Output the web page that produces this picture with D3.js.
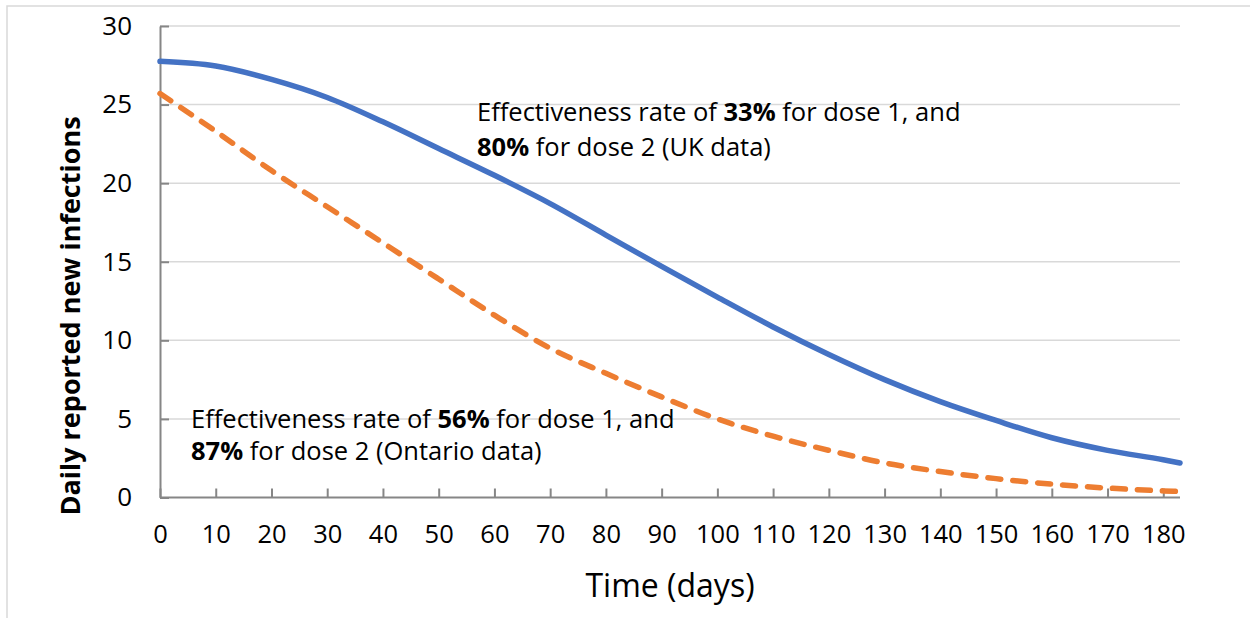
<!DOCTYPE html>
<html><head><meta charset="utf-8">
<script src="https://cdn.jsdelivr.net/npm/d3@7"></script>
<style>body{margin:0;background:#fff}svg{display:block}text{font-family:"Open Sans","Noto Sans",sans-serif;fill:#000}</style>
</head><body><svg id="c" width="1250" height="618"></svg>
<script>
const days = [0,10,20,30,40,50,60,70,80,90,100,110,120,130,140,150,160,170,180,183];
const ukSeries = [27.75,27.45,26.6,25.45,23.9,22.2,20.5,18.7,16.7,14.7,12.75,10.85,9.1,7.5,6.1,4.9,3.8,3.0,2.4,2.2];
const ontarioSeries = [25.7,23.3,20.8,18.5,16.2,13.9,11.6,9.5,7.9,6.4,5.0,3.9,3.0,2.2,1.65,1.2,0.85,0.6,0.42,0.38];
const xTicks = [0,10,20,30,40,50,60,70,80,90,100,110,120,130,140,150,160,170,180];
const yTicks = [0,5,10,15,20,25,30];
const ukLabel = [[["Effectiveness rate of ",false],["33%",true],[" for dose 1, and",false]],[["80%",true],[" for dose 2 (UK data)",false]]];
const ontLabel = [[["Effectiveness rate of ",false],["56%",true],[" for dose 1, and",false]],[["87%",true],[" for dose 2 (Ontario data)",false]]];

const svg = d3.select("#c");
svg.append("rect").attr("x",7).attr("y",6).attr("width",1270).attr("height",640)
  .attr("fill","#fff").attr("stroke","#d9d9d9").attr("stroke-width",1.5);

const L=160, R=1180, T=26, B=497.5;
const x = d3.scaleLinear().domain([0,183]).range([L,R]);
const y = d3.scaleLinear().domain([0,30]).range([B,T]);

svg.append("g").selectAll("line").data(yTicks.filter(d=>d>0)).join("line")
  .attr("x1",L).attr("x2",R).attr("y1",d=>y(d)).attr("y2",d=>y(d))
  .attr("stroke","#d9d9d9").attr("stroke-width",1.5);

const ya = svg.append("g").attr("transform",`translate(${L},0)`)
  .call(d3.axisLeft(y).tickValues(yTicks).tickSizeInner(-9).tickSizeOuter(0).tickPadding(28));
ya.select(".domain").attr("stroke","#868686").attr("stroke-width",2);
ya.selectAll(".tick line").attr("stroke","#868686").attr("stroke-width",2);
ya.selectAll(".tick text").attr("font-size",26).attr("font-family","Open Sans").attr("fill","#000");

const xa = svg.append("g").attr("transform",`translate(0,${B})`)
  .call(d3.axisBottom(x).tickValues(xTicks).tickSizeInner(-9).tickSizeOuter(0).tickPadding(27));
xa.select(".domain").attr("stroke","#868686").attr("stroke-width",2).attr("d",`M${L},0H${R}`);
xa.selectAll(".tick line").attr("stroke","#868686").attr("stroke-width",2);
xa.selectAll(".tick text").attr("font-size",25.5).attr("font-family","Open Sans").attr("fill","#000");

const line = d3.line().x((d,i)=>x(days[i])).y(d=>y(d)).curve(d3.curveMonotoneX);
svg.append("path").datum(ontarioSeries).attr("d",line).attr("fill","none")
  .attr("stroke","#ED7D31").attr("stroke-width",5.5).attr("stroke-dasharray","13,12").attr("stroke-linecap","round");
svg.append("path").datum(ukSeries).attr("d",line).attr("fill","none")
  .attr("stroke","#4472C4").attr("stroke-width",5.5).attr("stroke-linecap","round");

function label(lines, x0, ys){
  lines.forEach((ln,i)=>{
    const t = svg.append("text").attr("x",x0).attr("y",ys[i]).attr("font-size",25.5);
    ln.forEach(([s,b])=>t.append("tspan").text(s).attr("font-weight",b?"bold":"normal"));
  });
}
label(ukLabel, 477, [121,156]);
label(ontLabel, 191, [428,460]);

svg.append("text").attr("transform","translate(80,316) rotate(-90)").attr("text-anchor","middle")
  .attr("font-size",27).attr("font-weight","bold").text("Daily reported new infections");
svg.append("text").attr("x",(L+R)/2).attr("y",597).attr("text-anchor","middle")
  .attr("font-size",32).text("Time (days)");
</script></body></html>
